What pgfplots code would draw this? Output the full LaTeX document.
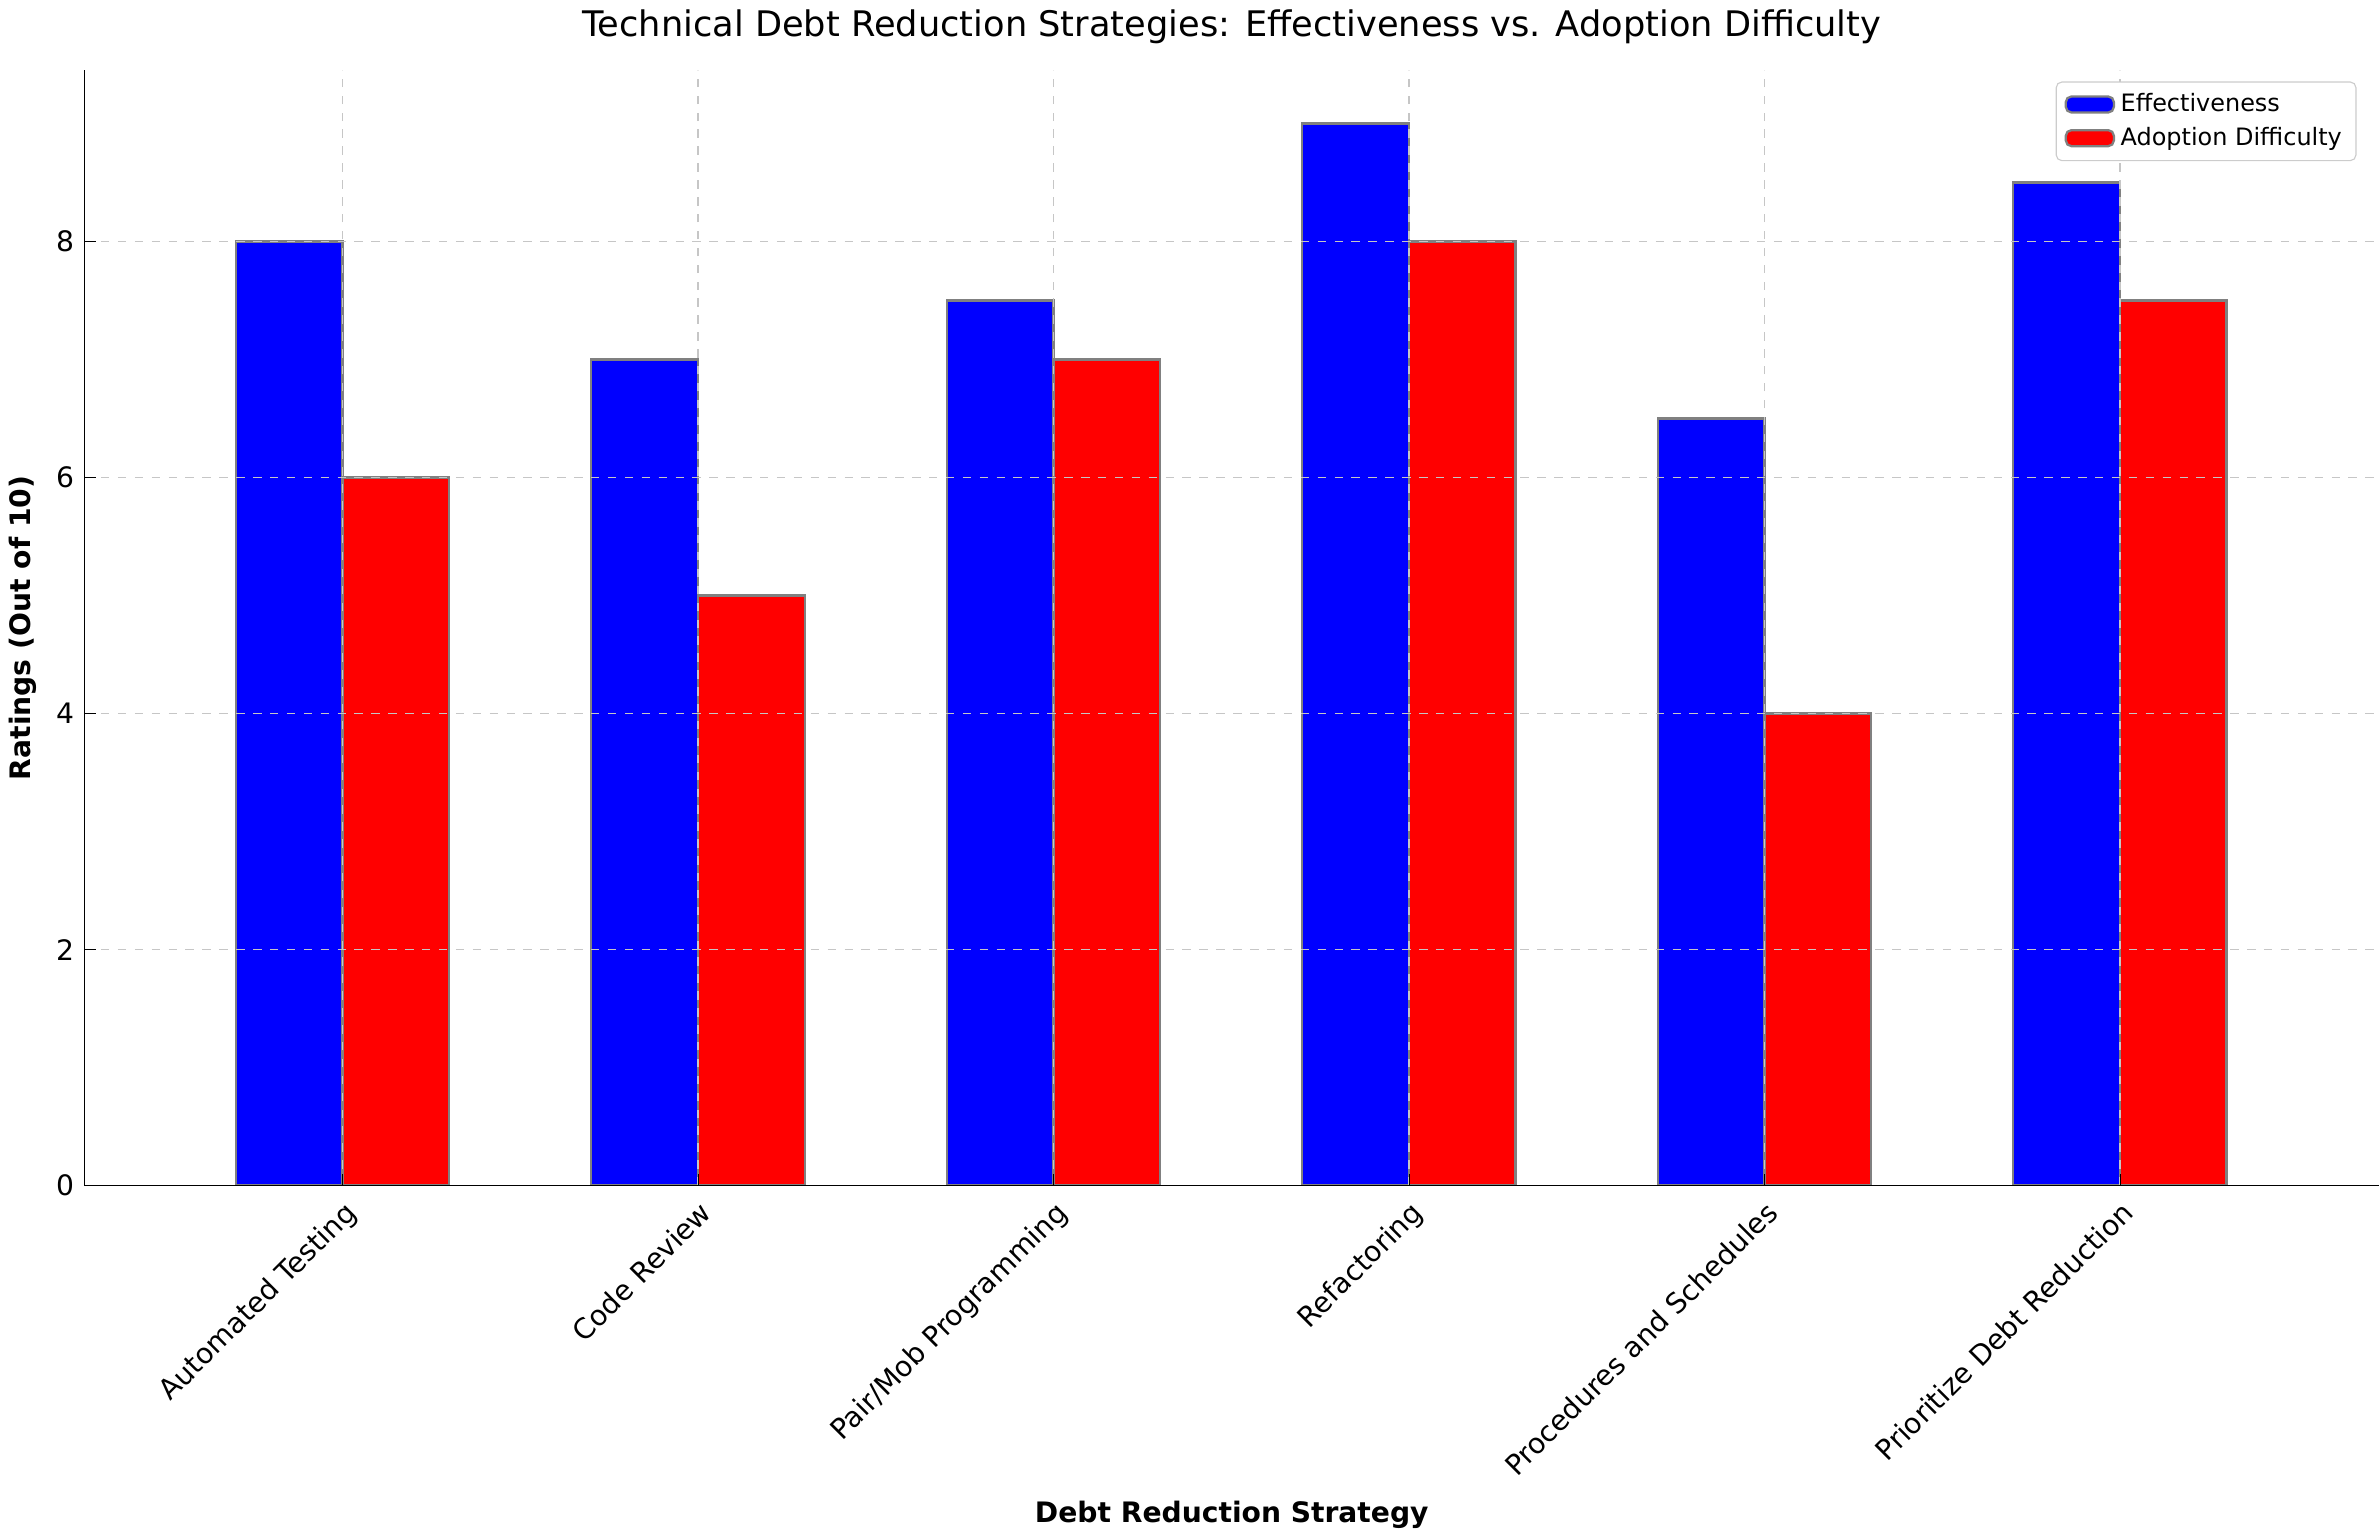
\documentclass[border=0pt]{standalone}
\usepackage{pgfplots}
\pgfplotsset{compat=1.18}
\usepackage{fontspec}
\setmainfont{DejaVu Sans}
\begin{document}
\begin{tikzpicture}
\begin{axis}[
  width=815pt, height=396pt, scale only axis,
  axis on top,
  xmin=-0.727, xmax=5.73, ymin=0, ymax=9.45,
  xtick={0,1,2,3,4,5},
  xticklabels={Automated Testing,Code Review,Pair/Mob Programming,Refactoring,Procedures and Schedules,Prioritize Debt Reduction},
  xticklabel style={rotate=45, anchor=north east, font=\fontsize{10}{12}\selectfont},
  yticklabel style={font=\fontsize{10}{12}\selectfont},
  ytick={0,2,4,6,8},
  /pgf/number format/assume math mode=true,
  axis x line*=bottom, axis y line*=left,
  grid=major, grid style={dashed, gray!45},
  xlabel={\textbf{Debt Reduction Strategy}}, ylabel={\textbf{Ratings (Out of 10)}},
  label style={font=\fontsize{10}{12}\selectfont},
  title={Technical Debt Reduction Strategies: Effectiveness vs. Adoption Difficulty},
  title style={font=\fontsize{12.5}{14}\selectfont},
  legend style={at={(0.99,0.99)}, anchor=north east, font=\fontsize{8.5}{10}\selectfont, draw=gray!40, rounded corners=2pt},
  legend cell align=left,
  area legend,
  tick style={black},
]
\addplot[ybar, bar width=0.3, bar shift=-0.15, fill=blue, draw=gray, line width=0.8pt] coordinates {(0,8) (1,7) (2,7.5) (3,9) (4,6.5) (5,8.5)};
\addlegendentry{Effectiveness}
\addplot[ybar, bar width=0.3, bar shift=0.15, fill=red, draw=gray, line width=0.8pt] coordinates {(0,6) (1,5) (2,7) (3,8) (4,4) (5,7.5)};
\addlegendentry{Adoption Difficulty}
\end{axis}
\end{tikzpicture}
\end{document}
